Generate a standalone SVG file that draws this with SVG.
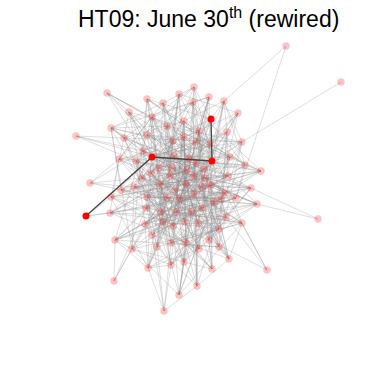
<svg xmlns="http://www.w3.org/2000/svg" width="374" height="374" viewBox="0 0 374 374">
<style>
.e{fill:none;stroke:#8a8a8a;stroke-opacity:0.36;stroke-width:0.8;stroke-linejoin:round}
.h{fill:none;stroke:#444;stroke-width:1.3}
.v{fill:#ff0000;fill-opacity:0.24}
.r{fill:#ff0000}
.t{font-family:"Liberation Sans",Arial,sans-serif;fill:#000}
</style>
<rect width="374" height="374" fill="#fff"/>
<text class="t" x="78" y="27" font-size="23">HT09: June 30<tspan font-size="16" dy="-9">th</tspan><tspan dy="9"> (rewired)</tspan></text>
<g id="connectors">
<path class="e" d="M194 87L163 103L111 128L173 141L189 158L159 168L170 176L186 184L111 197L236 198L202 208L185 222L171 243L184 262L179 295L209 97L152 117L147 135L242 142L212 161L204 169L228 176L202 187L180 199L110 213L226 217L219 229L132 249L212 269L193 102L167 126L184 137L152 157L245 165L142 178L175 190L225 193L221 199L191 212L173 226L209 240L229 259L197 286L179 94L238 113L227 132L210 144L136 161L187 170L205 178L121 190L167 198L146 208L242 223L157 247L148 268L224 101L184 121L124 138L174 156L230 157L151 173L160 184L251 188L214 202L176 212L163 222L115 240L219 247L129 112L199 131L196 142L119 159L172 168L194 176L134 187L147 197L257 204L198 223L186 243L171 265L147 99L211 119L143 151L196 163L261 171L211 185L194 194L161 212L145 224L152 235L199 249"/>
<path class="e" d="M238 113L184 137L212 161L170 176L211 185L257 204L163 222L157 247L197 286L193 102L147 135L189 158L261 171L134 187L214 202L209 240L212 269L209 97L111 128L143 151L172 168L160 184L167 198L191 212L219 229L184 262L194 87L211 119L196 142L230 157L205 178L225 193L110 213L185 222L199 249L129 112L124 138L136 161L142 178L202 187L236 198L145 224L186 243L224 101L227 132L152 157L204 169L186 184L194 194L115 240L148 268L179 94L167 126L242 142L159 168L147 197L176 212L242 223L229 259L152 117L173 141L196 163L194 176L251 188L146 208L173 226L132 249L179 295L163 103L119 159L151 173L121 190L221 199L226 217L171 243L147 99L199 131L174 156L187 170L175 190L180 199L202 208L152 235L171 265L184 121L210 144L245 165L228 176L111 197L161 212L198 223L219 247"/>
<path class="e" d="M147 135L172 168L225 193L145 224L148 268L152 117L119 159L175 190L161 212L157 247L209 97L196 142L142 178L194 194L242 223L179 295L199 131L245 165L211 185L184 262L129 112L152 157L146 208L171 243L184 137L261 171L167 198L185 222L167 126L196 163L121 190L202 208L219 247L193 102L143 151L205 178L236 198L115 240L187 170L111 197L163 222L212 269L211 119L136 161L186 184L176 212L132 249L147 99L210 144L170 176L214 202L219 229L227 132L159 168L251 188L226 217L171 265L238 113L189 158L160 184L110 213L186 243L179 94L173 141L151 173L180 199L198 223L197 286L111 128L230 157L202 187L229 259L163 103L174 156L228 176L257 204L209 240L194 87L124 138L204 169L147 197L173 226L184 121L212 161L134 187L191 212L199 249L224 101L242 142L194 176L221 199L152 235"/>
<path class="e" d="M152 157L111 197L186 243L184 121L142 178L202 208L174 156L225 193L171 243L211 119L151 173L191 212L179 295L143 151L251 188L209 240L152 117L261 171L176 212L197 286L242 142L211 185L115 240L238 113L204 169L161 212L210 144L202 187L152 235L129 112L187 170L110 213L196 142L121 190L219 229L163 103L172 168L146 208L212 269L173 141L134 187L242 223L193 102L159 168L257 204L148 268L184 137L186 184L198 223L224 101L245 165L236 198L171 265L124 138L175 190L185 222L147 99L230 157L221 199L184 262L160 184L173 226L209 97L196 163L214 202L229 259L147 135L163 222L179 94L212 161L194 194L219 247L227 132L228 176L145 224L136 161L180 199L199 249L199 131L205 178L226 217L194 87L119 159L167 198L132 249L111 128L194 176L189 158L147 197L157 247L167 126L170 176"/>
<path class="e" d="M159 168L163 103L205 178L152 235L227 132L211 185L229 259L143 151L221 199L245 165L193 102L194 176L219 229L199 131L202 187L219 247L242 142L214 202L179 295L230 157L202 208L224 101L170 176L242 223L111 128L121 190L199 249L210 144L194 194L197 286L196 163L191 212L147 99L142 178L198 223L167 126L134 187L132 249L196 142L180 199L212 161L176 212L209 97L151 173L185 222L184 121L186 184L157 247L173 141L167 198L136 161L161 212L179 94L261 171L173 226L211 119L175 190L186 243L184 137L147 197L212 269L119 159L110 213L204 169L163 222L152 117L160 184L171 243L124 138L111 197L148 268L189 158L146 208L194 87L187 170L145 224L238 113L209 240L225 193L171 265L152 157L257 204L172 168L226 217L129 112L228 176L115 240L147 135L251 188L184 262L174 156L236 198"/>
<path class="e" d="M184 121L147 135L196 142L152 157L196 163L187 170L170 176L160 184L202 187L147 197L221 199L161 212L185 222L115 240L132 249L171 265L148 268L199 249L209 240L198 223L226 217L176 212L236 198L167 198L211 185L175 190L194 176L204 169L230 157L189 158L210 144L167 126L111 128L124 138L242 142L119 159L245 165L261 171L205 178L186 184L251 188L180 199L257 204L191 212L145 224L242 223L171 243L219 247L229 259L186 243L219 229L163 222L202 208L146 208L194 194L225 193L134 187L228 176L151 173L159 168L136 161L143 151L184 137L199 131"/>
<path class="e" d="M286 46L224 101M286 46L236 198M341 82L242 142M76 136L124 138M76 136L136 161M76 136L152 157M76 136L143 151M107 93L152 117M107 93L147 135M107 93L167 126M107 93L129 112M107 93L184 137M107 93L143 151M90 183L121 190M90 183L142 178M90 183L119 159M90 183L134 187M90 183L143 151M86 216L110 213M86 216L111 197M86 216L146 208M318 219L257 204M318 219L251 188M267 270L242 223M267 270L209 240M267 270L226 217M267 270L225 193M114 281L115 240M114 281L132 249M114 281L146 208M114 281L145 224M164 311L148 268M164 311L157 247M164 311L171 243M164 311L197 286M164 311L152 235M164 311L171 265"/>
<path class="h" d="M86 216L152 157L212 161L211 119"/>
</g>
<g id="nodes">
<g id="n0"><circle class="v" cx="286" cy="46" r="3.7"/></g>
<g id="n1"><circle class="v" cx="341" cy="82" r="3.7"/></g>
<g id="n2"><circle class="v" cx="194" cy="87" r="3.7"/></g>
<g id="n3"><circle class="v" cx="107" cy="93" r="3.7"/></g>
<g id="n4"><circle class="v" cx="179" cy="94" r="3.7"/></g>
<g id="n5"><circle class="v" cx="209" cy="97" r="3.7"/></g>
<g id="n6"><circle class="v" cx="147" cy="99" r="3.7"/></g>
<g id="n7"><circle class="v" cx="224" cy="101" r="3.7"/></g>
<g id="n8"><circle class="v" cx="193" cy="102" r="3.7"/></g>
<g id="n9"><circle class="v" cx="163" cy="103" r="3.7"/></g>
<g id="n10"><circle class="v" cx="129" cy="112" r="3.7"/></g>
<g id="n11"><circle class="v" cx="238" cy="113" r="3.7"/></g>
<g id="n12"><circle class="v" cx="152" cy="117" r="3.7"/></g>
<g id="n13"><circle class="r" cx="211" cy="119" r="3.5"/></g>
<g id="n14"><circle class="v" cx="184" cy="121" r="3.7"/></g>
<g id="n15"><circle class="v" cx="167" cy="126" r="3.7"/></g>
<g id="n16"><circle class="v" cx="111" cy="128" r="3.7"/></g>
<g id="n17"><circle class="v" cx="199" cy="131" r="3.7"/></g>
<g id="n18"><circle class="v" cx="227" cy="132" r="3.7"/></g>
<g id="n19"><circle class="v" cx="147" cy="135" r="3.7"/></g>
<g id="n20"><circle class="v" cx="76" cy="136" r="3.7"/></g>
<g id="n21"><circle class="v" cx="124" cy="138" r="3.7"/></g>
<g id="n22"><circle class="v" cx="184" cy="137" r="3.7"/></g>
<g id="n23"><circle class="v" cx="173" cy="141" r="3.7"/></g>
<g id="n24"><circle class="v" cx="196" cy="142" r="3.7"/></g>
<g id="n25"><circle class="v" cx="210" cy="144" r="3.7"/></g>
<g id="n26"><circle class="v" cx="242" cy="142" r="3.7"/></g>
<g id="n27"><circle class="v" cx="143" cy="151" r="3.7"/></g>
<g id="n28"><circle class="v" cx="174" cy="156" r="3.7"/></g>
<g id="n29"><circle class="r" cx="152" cy="157" r="3.5"/></g>
<g id="n30"><circle class="v" cx="189" cy="158" r="3.7"/></g>
<g id="n31"><circle class="v" cx="119" cy="159" r="3.7"/></g>
<g id="n32"><circle class="v" cx="136" cy="161" r="3.7"/></g>
<g id="n33"><circle class="r" cx="212" cy="161" r="3.5"/></g>
<g id="n34"><circle class="v" cx="196" cy="163" r="3.7"/></g>
<g id="n35"><circle class="v" cx="230" cy="157" r="3.7"/></g>
<g id="n36"><circle class="v" cx="245" cy="165" r="3.7"/></g>
<g id="n37"><circle class="v" cx="159" cy="168" r="3.7"/></g>
<g id="n38"><circle class="v" cx="172" cy="168" r="3.7"/></g>
<g id="n39"><circle class="v" cx="187" cy="170" r="3.7"/></g>
<g id="n40"><circle class="v" cx="204" cy="169" r="3.7"/></g>
<g id="n41"><circle class="v" cx="261" cy="171" r="3.7"/></g>
<g id="n42"><circle class="v" cx="151" cy="173" r="3.7"/></g>
<g id="n43"><circle class="v" cx="142" cy="178" r="3.7"/></g>
<g id="n44"><circle class="v" cx="170" cy="176" r="3.7"/></g>
<g id="n45"><circle class="v" cx="194" cy="176" r="3.7"/></g>
<g id="n46"><circle class="v" cx="205" cy="178" r="3.7"/></g>
<g id="n47"><circle class="v" cx="228" cy="176" r="3.7"/></g>
<g id="n48"><circle class="v" cx="90" cy="183" r="3.7"/></g>
<g id="n49"><circle class="v" cx="160" cy="184" r="3.7"/></g>
<g id="n50"><circle class="v" cx="175" cy="190" r="3.7"/></g>
<g id="n51"><circle class="v" cx="186" cy="184" r="3.7"/></g>
<g id="n52"><circle class="v" cx="134" cy="187" r="3.7"/></g>
<g id="n53"><circle class="v" cx="121" cy="190" r="3.7"/></g>
<g id="n54"><circle class="v" cx="202" cy="187" r="3.7"/></g>
<g id="n55"><circle class="v" cx="211" cy="185" r="3.7"/></g>
<g id="n56"><circle class="v" cx="251" cy="188" r="3.7"/></g>
<g id="n57"><circle class="v" cx="225" cy="193" r="3.7"/></g>
<g id="n58"><circle class="v" cx="111" cy="197" r="3.7"/></g>
<g id="n59"><circle class="v" cx="147" cy="197" r="3.7"/></g>
<g id="n60"><circle class="v" cx="167" cy="198" r="3.7"/></g>
<g id="n61"><circle class="v" cx="180" cy="199" r="3.7"/></g>
<g id="n62"><circle class="v" cx="194" cy="194" r="3.7"/></g>
<g id="n63"><circle class="v" cx="214" cy="202" r="3.7"/></g>
<g id="n64"><circle class="v" cx="221" cy="199" r="3.7"/></g>
<g id="n65"><circle class="v" cx="236" cy="198" r="3.7"/></g>
<g id="n66"><circle class="v" cx="257" cy="204" r="3.7"/></g>
<g id="n67"><circle class="v" cx="146" cy="208" r="3.7"/></g>
<g id="n68"><circle class="v" cx="110" cy="213" r="3.7"/></g>
<g id="n69"><circle class="v" cx="161" cy="212" r="3.7"/></g>
<g id="n70"><circle class="v" cx="176" cy="212" r="3.7"/></g>
<g id="n71"><circle class="v" cx="191" cy="212" r="3.7"/></g>
<g id="n72"><circle class="v" cx="202" cy="208" r="3.7"/></g>
<g id="n73"><circle class="r" cx="86" cy="216" r="3.5"/></g>
<g id="n74"><circle class="v" cx="318" cy="219" r="3.7"/></g>
<g id="n75"><circle class="v" cx="226" cy="217" r="3.7"/></g>
<g id="n76"><circle class="v" cx="145" cy="224" r="3.7"/></g>
<g id="n77"><circle class="v" cx="163" cy="222" r="3.7"/></g>
<g id="n78"><circle class="v" cx="173" cy="226" r="3.7"/></g>
<g id="n79"><circle class="v" cx="185" cy="222" r="3.7"/></g>
<g id="n80"><circle class="v" cx="198" cy="223" r="3.7"/></g>
<g id="n81"><circle class="v" cx="242" cy="223" r="3.7"/></g>
<g id="n82"><circle class="v" cx="219" cy="229" r="3.7"/></g>
<g id="n83"><circle class="v" cx="152" cy="235" r="3.7"/></g>
<g id="n84"><circle class="v" cx="115" cy="240" r="3.7"/></g>
<g id="n85"><circle class="v" cx="209" cy="240" r="3.7"/></g>
<g id="n86"><circle class="v" cx="171" cy="243" r="3.7"/></g>
<g id="n87"><circle class="v" cx="186" cy="243" r="3.7"/></g>
<g id="n88"><circle class="v" cx="157" cy="247" r="3.7"/></g>
<g id="n89"><circle class="v" cx="132" cy="249" r="3.7"/></g>
<g id="n90"><circle class="v" cx="199" cy="249" r="3.7"/></g>
<g id="n91"><circle class="v" cx="219" cy="247" r="3.7"/></g>
<g id="n92"><circle class="v" cx="229" cy="259" r="3.7"/></g>
<g id="n93"><circle class="v" cx="184" cy="262" r="3.7"/></g>
<g id="n94"><circle class="v" cx="171" cy="265" r="3.7"/></g>
<g id="n95"><circle class="v" cx="148" cy="268" r="3.7"/></g>
<g id="n96"><circle class="v" cx="212" cy="269" r="3.7"/></g>
<g id="n97"><circle class="v" cx="267" cy="270" r="3.7"/></g>
<g id="n98"><circle class="v" cx="114" cy="281" r="3.7"/></g>
<g id="n99"><circle class="v" cx="197" cy="286" r="3.7"/></g>
<g id="n100"><circle class="v" cx="179" cy="295" r="3.7"/></g>
<g id="n101"><circle class="v" cx="164" cy="311" r="3.7"/></g>
</g>
</svg>
